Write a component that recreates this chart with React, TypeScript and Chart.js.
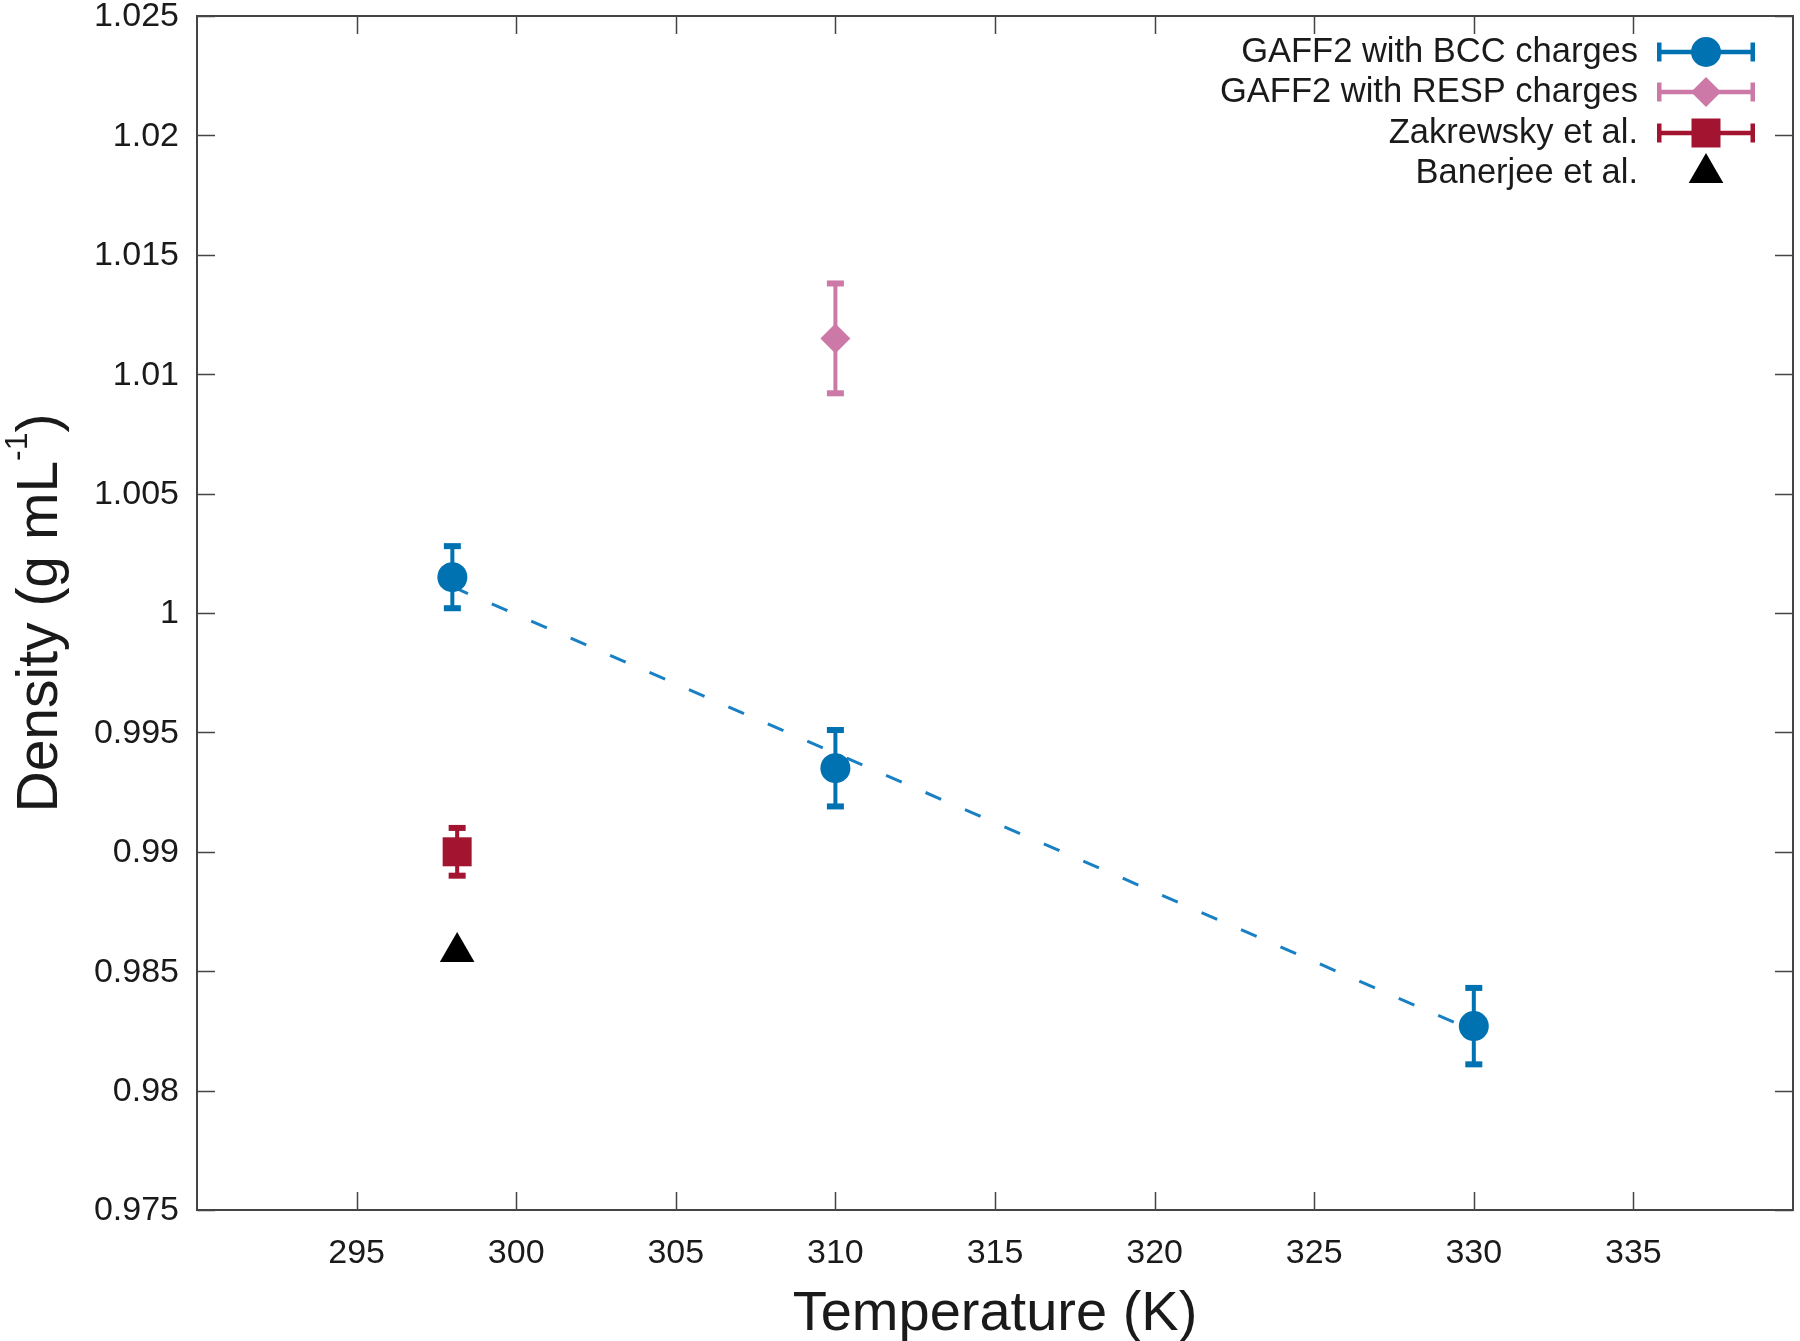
import { useEffect, useRef } from "react";
import { Chart, registerables } from "chart.js";

Chart.register(...registerables);

const W = 1800;
const H = 1341;
const FONT = "'Liberation Sans', Arial, Helvetica, sans-serif";
const TEXT = "#1a1a1a";
const FRAME = "#444444";

// axis ticks
const xTickValues = [295, 300, 305, 310, 315, 320, 325, 330, 335];
const xTickLabels = ["295", "300", "305", "310", "315", "320", "325", "330", "335"];
const yTickValues = [0.975, 0.98, 0.985, 0.99, 0.995, 1.0, 1.005, 1.01, 1.015, 1.02, 1.025];
const yTickLabels = ["0.975", "0.98", "0.985", "0.99", "0.995", "1", "1.005", "1.01", "1.015", "1.02", "1.025"];

// series
const bccX = [298, 310, 330];
const bccY = [1.0015, 0.9935, 0.9827];
const bccErr = [0.0013, 0.0016, 0.0016];

const respX = [310];
const respY = [1.0115];
const respErr = [0.0023];

const zakX = [298.15];
const zakY = [0.99];
const zakErr = [0.001];

const banX = [298.15];
const banY = [0.9858];

// linear fit of the BCC series (dashed)
const fitX = [298, 330];
const fitY = [1.0011, 0.9825];

const labels = [
  "GAFF2 with BCC charges",
  "GAFF2 with RESP charges",
  "Zakrewsky et al.",
  "Banerjee et al.",
];

const BLUE = "#0072b2";
const PINK = "#cc79a7";
const RED = "#a2142f";
const BLACK = "#000000";

function pts(xs: number[], ys: number[]) {
  return xs.map((x, i) => ({ x, y: ys[i] }));
}

function drawMarker(ctx: CanvasRenderingContext2D, style: string, x: number, y: number, r: number, color: string) {
  ctx.save();
  ctx.fillStyle = color;
  ctx.beginPath();
  if (style === "circle") {
    ctx.arc(x, y, r, 0, Math.PI * 2);
  } else if (style === "rectRot") {
    ctx.moveTo(x - r, y);
    ctx.lineTo(x, y - r);
    ctx.lineTo(x + r, y);
    ctx.lineTo(x, y + r);
    ctx.closePath();
  } else if (style === "rect") {
    const s = Math.SQRT1_2 * r;
    ctx.rect(x - s, y - s, 2 * s, 2 * s);
  } else if (style === "triangle") {
    const a = Math.sin(Math.PI / 3) * r;
    ctx.moveTo(x, y - r);
    ctx.lineTo(x + a, y + r / 2);
    ctx.lineTo(x - a, y + r / 2);
    ctx.closePath();
  }
  ctx.fill();
  ctx.restore();
}

const errorBarPlugin = {
  id: "errorBars",
  beforeDatasetsDraw(chart: any) {
    const ctx = chart.ctx as CanvasRenderingContext2D;
    const xs = chart.scales.x;
    const ys = chart.scales.y;
    chart.data.datasets.forEach((ds: any) => {
      if (!ds.yErr) return;
      ds.data.forEach((p: any, i: number) => {
        const px = xs.getPixelForValue(p.x);
        const top = ys.getPixelForValue(p.y + ds.yErr[i]);
        const bot = ys.getPixelForValue(p.y - ds.yErr[i]);
        ctx.save();
        ctx.strokeStyle = ds.backgroundColor;
        ctx.fillStyle = ds.backgroundColor;
        ctx.lineWidth = 4;
        ctx.beginPath();
        ctx.moveTo(px, top);
        ctx.lineTo(px, bot);
        ctx.stroke();
        ctx.fillRect(px - 8.5, top - 3, 17, 6);
        ctx.fillRect(px - 8.5, bot - 3, 17, 6);
        ctx.restore();
      });
    });
  },
};

const framePlugin = {
  id: "frame",
  afterDraw(chart: any) {
    const ctx = chart.ctx as CanvasRenderingContext2D;
    const { left, right, top, bottom } = chart.chartArea;
    const xs = chart.scales.x;
    const ys = chart.scales.y;
    ctx.save();
    ctx.strokeStyle = FRAME;
    ctx.lineWidth = 2;
    ctx.strokeRect(left, top, right - left, bottom - top);
    ctx.lineWidth = 1.5;
    const tl = 18;
    ctx.beginPath();
    xTickValues.forEach((v) => {
      const px = Math.round(xs.getPixelForValue(v)) + 0.5;
      ctx.moveTo(px, bottom);
      ctx.lineTo(px, bottom - tl);
      ctx.moveTo(px, top);
      ctx.lineTo(px, top + tl);
    });
    yTickValues.forEach((v) => {
      const py = Math.round(ys.getPixelForValue(v)) + 0.5;
      ctx.moveTo(left, py);
      ctx.lineTo(left + tl, py);
      ctx.moveTo(right, py);
      ctx.lineTo(right - tl, py);
    });
    ctx.stroke();

    // tick labels
    ctx.fillStyle = TEXT;
    ctx.font = `34px ${FONT}`;
    ctx.textBaseline = "middle";
    ctx.textAlign = "right";
    yTickValues.forEach((v, i) => {
      ctx.fillText(yTickLabels[i], left - 18, ys.getPixelForValue(v) + 1);
    });
    ctx.textAlign = "center";
    xTickValues.forEach((v, i) => {
      ctx.fillText(xTickLabels[i], xs.getPixelForValue(v), bottom + 44);
    });

    // axis titles
    ctx.font = `56px ${FONT}`;
    ctx.textAlign = "center";
    ctx.textBaseline = "middle";
    ctx.fillText("Temperature (K)", (left + right) / 2, 1315);

    // y title with superscript
    const main = "Density (g mL";
    const sup = "-1";
    const end = ")";
    const fMain = `57px ${FONT}`;
    const fSup = `32px ${FONT}`;
    ctx.font = fMain;
    const wMain = ctx.measureText(main).width;
    const wEnd = ctx.measureText(end).width;
    ctx.font = fSup;
    const wSup = ctx.measureText(sup).width;
    const total = wMain + wSup + wEnd;
    ctx.save();
    ctx.translate(57, (top + bottom) / 2);
    ctx.rotate(-Math.PI / 2);
    ctx.textAlign = "left";
    ctx.textBaseline = "alphabetic";
    let cx = -total / 2;
    ctx.font = fMain;
    ctx.fillText(main, cx, 0);
    cx += wMain;
    ctx.font = fSup;
    ctx.fillText(sup, cx, -30);
    cx += wSup;
    ctx.font = fMain;
    ctx.fillText(end, cx, 0);
    ctx.restore();

    // legend
    const textRight = 1638;
    const sx0 = 1657;
    const sx1 = 1755;
    const mx = 1706;
    const rows = [52, 92, 133, 173];
    ctx.font = `34.5px ${FONT}`;
    ctx.textAlign = "right";
    ctx.textBaseline = "middle";
    const entries = chart.data.datasets.filter((d: any) => d.inLegend);
    entries.forEach((ds: any, i: number) => {
      const y = rows[i];
      ctx.fillStyle = TEXT;
      ctx.fillText(ds.label, textRight, y);
      if (ds.yErr) {
        ctx.strokeStyle = ds.backgroundColor;
        ctx.lineWidth = 4.5;
        ctx.beginPath();
        ctx.moveTo(sx0, y);
        ctx.lineTo(sx1, y);
        ctx.stroke();
        ctx.fillStyle = ds.backgroundColor;
        ctx.fillRect(sx0, y - 9.5, 4.5, 19);
        ctx.fillRect(sx1 - 4.5, y - 9.5, 4.5, 19);
      }
      drawMarker(ctx, ds.pointStyle, mx, y, ds.pointRadius, ds.backgroundColor);
    });
    ctx.restore();
  },
};

export default function App() {
  const ref = useRef<HTMLCanvasElement | null>(null);

  useEffect(() => {
    if (!ref.current) return;
    const chart = new Chart(ref.current, {
      type: "scatter",
      data: {
        datasets: [
          {
            label: labels[0],
            data: pts(bccX, bccY),
            yErr: bccErr,
            inLegend: true,
            pointStyle: "circle",
            pointRadius: 15,
            backgroundColor: BLUE,
            borderColor: BLUE,
            borderWidth: 0,
            showLine: false,
          } as any,
          {
            label: labels[1],
            data: pts(respX, respY),
            yErr: respErr,
            inLegend: true,
            pointStyle: "rectRot",
            pointRadius: 15,
            backgroundColor: PINK,
            borderColor: PINK,
            borderWidth: 0,
            showLine: false,
          } as any,
          {
            label: labels[2],
            data: pts(zakX, zakY),
            yErr: zakErr,
            inLegend: true,
            pointStyle: "rect",
            pointRadius: 20.5,
            backgroundColor: RED,
            borderColor: RED,
            borderWidth: 0,
            showLine: false,
          } as any,
          {
            label: labels[3],
            data: pts(banX, banY),
            inLegend: true,
            pointStyle: "triangle",
            pointRadius: 20,
            backgroundColor: BLACK,
            borderColor: BLACK,
            borderWidth: 0,
            showLine: false,
          } as any,
          {
            label: "fit",
            data: pts(fitX, fitY),
            inLegend: false,
            showLine: true,
            pointRadius: 0,
            borderColor: "#1a80c4",
            backgroundColor: "#1a80c4",
            borderWidth: 3,
            borderDash: [17, 26],
          } as any,
        ],
      },
      options: {
        responsive: false,
        maintainAspectRatio: false,
        devicePixelRatio: 1,
        animation: false,
        events: [],
        layout: { autoPadding: false, padding: { top: 16, right: 7, left: 0, bottom: 0 } },
        plugins: {
          legend: { display: false },
          tooltip: { enabled: false },
          title: { display: false },
        },
        scales: {
          x: {
            type: "linear",
            min: 290,
            max: 340,
            afterBuildTicks: (s: any) => {
              s.ticks = xTickValues.map((v) => ({ value: v }));
            },
            afterFit: (s: any) => {
              s.height = H - 1210;
            },
            grid: { display: false },
            border: { display: false },
            ticks: { display: false },
          },
          y: {
            type: "linear",
            min: 0.975,
            max: 1.025,
            afterBuildTicks: (s: any) => {
              s.ticks = yTickValues.map((v) => ({ value: v }));
            },
            afterFit: (s: any) => {
              s.width = 197;
            },
            grid: { display: false },
            border: { display: false },
            ticks: { display: false },
          },
        },
      },
      plugins: [errorBarPlugin, framePlugin],
    } as any);
    return () => chart.destroy();
  }, []);

  return (
    <div style={{ position: "absolute", left: 0, top: 0, width: W, height: H, background: "#fff" }}>
      <canvas ref={ref} width={W} height={H} style={{ width: W, height: H, display: "block" }} />
    </div>
  );
}
